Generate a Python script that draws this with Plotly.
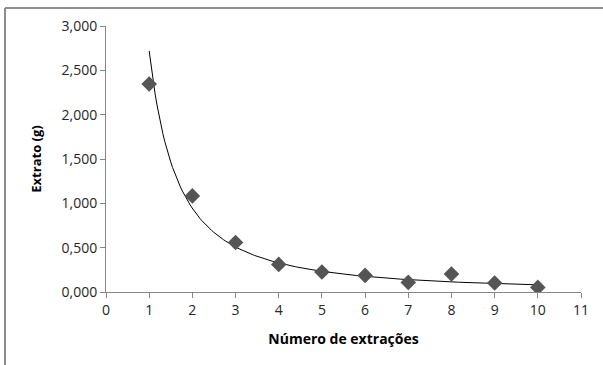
import numpy as np
import plotly.graph_objects as go

# Data
extracoes = [1, 2, 3, 4, 5, 6, 7, 8, 9, 10]
extrato_g = [2.346, 1.084, 0.559, 0.311, 0.225, 0.187, 0.108, 0.203, 0.101, 0.052]

y_tick_vals = [0, 0.5, 1.0, 1.5, 2.0, 2.5, 3.0]
y_tick_text = ["0,000", "0,500", "1,000", "1,500", "2,000", "2,500", "3,000"]
x_tick_vals = list(range(0, 12))

# Power trendline (Excel-style: least squares on log-log)
b, ln_a = np.polyfit(np.log(extracoes), np.log(extrato_g), 1)
a = np.exp(ln_a)
x_fit = np.linspace(min(extracoes), max(extracoes), 200)
y_fit = a * x_fit ** b

FONT = "Open Sans"
W, H = 603, 365
ml, mr, mt, mb = 106, 22, 26, 73
pw, ph = W - ml - mr, H - mt - mb

def px_x(px):
    return (px - ml) / pw

def px_y(py):
    return (H - mb - py) / ph

fig = go.Figure()
fig.add_trace(go.Scatter(
    x=x_fit, y=y_fit, mode="lines",
    line=dict(color="#000000", width=1),
    hoverinfo="skip", showlegend=False,
))
fig.add_trace(go.Scatter(
    x=extracoes, y=extrato_g, mode="markers",
    marker=dict(symbol="diamond", size=12, color="#555555",
                line=dict(width=0)),
    showlegend=False,
))

fig.update_layout(
    width=W, height=H,
    margin=dict(l=ml, r=mr, t=mt, b=mb, autoexpand=False),
    paper_bgcolor="white", plot_bgcolor="white",
    font=dict(family=FONT, size=14, color="#262626"),
    xaxis=dict(
        range=[0, 11], tickvals=x_tick_vals, showgrid=False, zeroline=False,
        showline=True, linecolor="#868686", linewidth=1,
        ticks="outside", ticklen=5, tickcolor="#868686",
        tickfont=dict(size=14),
        title=dict(text="<b>Número de extrações</b>", font=dict(size=14, color="#000"), standoff=16),
        automargin=False,
    ),
    yaxis=dict(
        range=[0, 3.0], tickvals=y_tick_vals, ticktext=y_tick_text,
        showgrid=False, zeroline=False,
        showline=True, linecolor="#868686", linewidth=1,
        ticks="outside", ticklen=5, tickcolor="#868686",
        tickfont=dict(size=14),
        title=dict(text="<b>Extrato (g)</b>", font=dict(size=13, color="#000"), standoff=16),
        automargin=False,
    ),
    shapes=[
        dict(type="line", xref="paper", yref="paper", layer="above",
             x0=px_x(5), x1=px_x(W), y0=px_y(8), y1=px_y(8),
             line=dict(color="#8c8c8c", width=2)),
        dict(type="line", xref="paper", yref="paper", layer="above",
             x0=px_x(5), x1=px_x(5), y0=px_y(H), y1=px_y(8),
             line=dict(color="#8c8c8c", width=2)),
    ],
)

fig.write_html(
    "out.html",
    config={"displayModeBar": False},
    post_script="document.body.style.margin='0';",
)
